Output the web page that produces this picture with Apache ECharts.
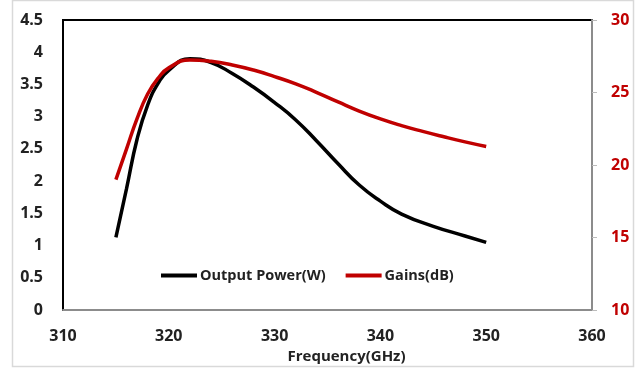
<!DOCTYPE html>
<html>
<head>
<meta charset="utf-8">
<script src="https://cdn.jsdelivr.net/npm/echarts@6/dist/echarts.min.js"></script>
<style>
  html, body { margin: 0; padding: 0; background: #fff; }
  #chart { width: 644px; height: 369px; }
</style>
</head>
<body>
<div id="chart"></div>
<script>
// values
const powerFreq = [315, 316, 317, 318, 319, 320, 322, 324, 326, 328, 330, 332, 334, 336, 338, 340, 342, 345, 348, 350]
const powerW = [1.13, 1.88, 2.65, 3.18, 3.52, 3.72, 3.90, 3.84, 3.67, 3.46, 3.22, 2.95, 2.62, 2.27, 1.94, 1.69, 1.49, 1.30, 1.15, 1.05]
const gainFreq = [315, 316, 317, 318, 319, 320, 322, 324, 326, 328, 330, 332, 334, 336, 338, 340, 342, 344, 346, 348, 350]
const gainDb = [19.0, 21.1, 23.2, 24.9, 26.0, 26.7, 27.25, 27.15, 26.9, 26.55, 26.1, 25.6, 25.0, 24.35, 23.72, 23.18, 22.72, 22.32, 21.95, 21.6, 21.28]
const seriesNames = ['Output Power(W)', 'Gains(dB)']

const pair = (xs, ys) => xs.map((x, i) => [x, ys[i]])
const font = '"Open Sans", sans-serif'
const red = '#c00000'

const chart = echarts.init(document.getElementById('chart'), null, { renderer: 'canvas' })
chart.setOption({
  backgroundColor: '#fff',
  animation: false,
  graphic: [{
    type: 'rect',
    shape: { x: 12.5, y: 0.5, width: 621, height: 366 },
    style: { fill: 'none', stroke: '#d9d9d9', lineWidth: 1.5 },
    z: -1
  }],
  grid: {
    left: 63, right: 52, top: 20, bottom: 57,
    show: true, borderColor: '#000', borderWidth: 2
  },
  legend: {
    left: 156, top: 263,
    icon: 'rect',
    itemWidth: 36, itemHeight: 4, itemGap: 20,
    textStyle: { fontFamily: font, fontWeight: 'bold', fontSize: 14.5, color: '#222', padding: [0, 0, 0, -2] },
    data: seriesNames
  },
  xAxis: {
    type: 'value', min: 310, max: 360, interval: 10,
    name: 'Frequency(GHz)', nameLocation: 'middle', nameGap: 34,
    nameTextStyle: { fontFamily: font, fontWeight: 'bold', fontSize: 15, color: '#222', padding: [0, 0, 0, 38] },
    axisLine: { lineStyle: { color: '#8c8c8c', width: 2 } },
    axisTick: { show: false },
    splitLine: { show: false },
    axisLabel: { margin: 18, fontFamily: font, fontWeight: 'bold', fontSize: 16, color: '#222' }
  },
  yAxis: [{
    type: 'value', min: 0, max: 4.5, interval: 0.5,
    axisLine: { show: false },
    axisTick: { show: false },
    splitLine: { show: false },
    axisLabel: { margin: 20, fontFamily: font, fontWeight: 'bold', fontSize: 16, color: '#222' }
  }, {
    type: 'value', min: 10, max: 30, interval: 5, position: 'right',
    axisLine: { show: true, lineStyle: { color: '#8c8c8c', width: 2 } },
    axisTick: { show: true, length: 5, lineStyle: { color: '#bbb' } },
    splitLine: { show: false },
    axisLabel: { margin: 19, fontFamily: font, fontWeight: 'bold', fontSize: 16, color: red }
  }],
  series: [{
    name: seriesNames[0],
    type: 'line',
    yAxisIndex: 0,
    smooth: 0.5,
    symbol: 'none',
    color: '#000',
    lineStyle: { width: 3.5, color: '#000' },
    data: pair(powerFreq, powerW)
  }, {
    name: seriesNames[1],
    type: 'line',
    yAxisIndex: 1,
    smooth: 0.5,
    symbol: 'none',
    color: red,
    lineStyle: { width: 3.5, color: red },
    data: pair(gainFreq, gainDb)
  }]
})
</script>
</body>
</html>
